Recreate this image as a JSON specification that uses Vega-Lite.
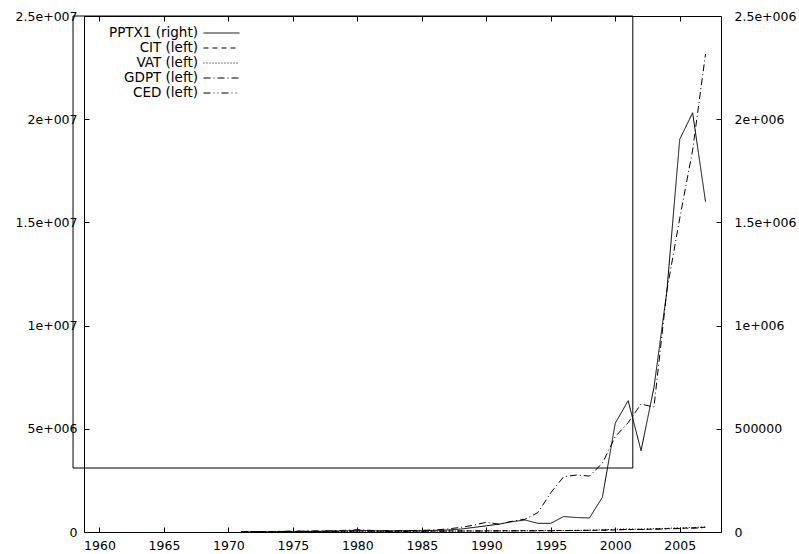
{
  "$schema": "https://vega.github.io/schema/vega-lite/v6.json",
  "width": 637,
  "height": 516,
  "autosize": "none",
  "padding": {"left": 84, "top": 16, "right": 78, "bottom": 22},
  "background": "white",
  "config": {
    "view": {"stroke": "black", "strokeWidth": 1},
    "font": "DejaVu Sans",
    "axis": {"labelFont": "DejaVu Sans", "labelFontSize": 12.5, "labelColor": "black", "tickColor": "black", "domain": false, "grid": false, "tickSize": -5, "title": null}
  },
  "datasets": {
    "main": [
      {"year":1971,"series":"PPTX1","value":500},{"year":1972,"series":"PPTX1","value":800},{"year":1973,"series":"PPTX1","value":1000},{"year":1974,"series":"PPTX1","value":1500},{"year":1975,"series":"PPTX1","value":2000},{"year":1976,"series":"PPTX1","value":2500},{"year":1977,"series":"PPTX1","value":3000},{"year":1978,"series":"PPTX1","value":3500},{"year":1979,"series":"PPTX1","value":5000},{"year":1980,"series":"PPTX1","value":9000},{"year":1981,"series":"PPTX1","value":6000},{"year":1982,"series":"PPTX1","value":5000},{"year":1983,"series":"PPTX1","value":5500},{"year":1984,"series":"PPTX1","value":6000},{"year":1985,"series":"PPTX1","value":6000},{"year":1986,"series":"PPTX1","value":8000},{"year":1987,"series":"PPTX1","value":10000},{"year":1988,"series":"PPTX1","value":14000},{"year":1989,"series":"PPTX1","value":22000},{"year":1990,"series":"PPTX1","value":30000},{"year":1991,"series":"PPTX1","value":38000},{"year":1992,"series":"PPTX1","value":50000},{"year":1993,"series":"PPTX1","value":58000},{"year":1994,"series":"PPTX1","value":42000},{"year":1995,"series":"PPTX1","value":42000},{"year":1996,"series":"PPTX1","value":75000},{"year":1997,"series":"PPTX1","value":70000},{"year":1998,"series":"PPTX1","value":68000},{"year":1999,"series":"PPTX1","value":168000},{"year":2000,"series":"PPTX1","value":527000},{"year":2001,"series":"PPTX1","value":636000},{"year":2002,"series":"PPTX1","value":394000},{"year":2003,"series":"PPTX1","value":700000},{"year":2004,"series":"PPTX1","value":1165000},{"year":2005,"series":"PPTX1","value":1903000},{"year":2006,"series":"PPTX1","value":2031000},{"year":2007,"series":"PPTX1","value":1600000},

      {"year":1971,"series":"CIT","value":20000},{"year":1972,"series":"CIT","value":22000},{"year":1973,"series":"CIT","value":25000},{"year":1974,"series":"CIT","value":30000},{"year":1975,"series":"CIT","value":35000},{"year":1976,"series":"CIT","value":38000},{"year":1977,"series":"CIT","value":40000},{"year":1978,"series":"CIT","value":42000},{"year":1979,"series":"CIT","value":45000},{"year":1980,"series":"CIT","value":50000},{"year":1981,"series":"CIT","value":48000},{"year":1982,"series":"CIT","value":45000},{"year":1983,"series":"CIT","value":44000},{"year":1984,"series":"CIT","value":45000},{"year":1985,"series":"CIT","value":46000},{"year":1986,"series":"CIT","value":48000},{"year":1987,"series":"CIT","value":50000},{"year":1988,"series":"CIT","value":52000},{"year":1989,"series":"CIT","value":55000},{"year":1990,"series":"CIT","value":58000},{"year":1991,"series":"CIT","value":60000},{"year":1992,"series":"CIT","value":62000},{"year":1993,"series":"CIT","value":64000},{"year":1994,"series":"CIT","value":66000},{"year":1995,"series":"CIT","value":68000},{"year":1996,"series":"CIT","value":72000},{"year":1997,"series":"CIT","value":75000},{"year":1998,"series":"CIT","value":78000},{"year":1999,"series":"CIT","value":85000},{"year":2000,"series":"CIT","value":100000},{"year":2001,"series":"CIT","value":120000},{"year":2002,"series":"CIT","value":130000},{"year":2003,"series":"CIT","value":140000},{"year":2004,"series":"CIT","value":160000},{"year":2005,"series":"CIT","value":180000},{"year":2006,"series":"CIT","value":200000},{"year":2007,"series":"CIT","value":230000},

      {"year":1975,"series":"VAT","value":15000},{"year":1976,"series":"VAT","value":18000},{"year":1977,"series":"VAT","value":20000},{"year":1978,"series":"VAT","value":24000},{"year":1979,"series":"VAT","value":28000},{"year":1980,"series":"VAT","value":34000},{"year":1981,"series":"VAT","value":32000},{"year":1982,"series":"VAT","value":30000},{"year":1983,"series":"VAT","value":31000},{"year":1984,"series":"VAT","value":33000},{"year":1985,"series":"VAT","value":35000},{"year":1986,"series":"VAT","value":38000},{"year":1987,"series":"VAT","value":40000},{"year":1988,"series":"VAT","value":43000},{"year":1989,"series":"VAT","value":46000},{"year":1990,"series":"VAT","value":50000},{"year":1991,"series":"VAT","value":53000},{"year":1992,"series":"VAT","value":56000},{"year":1993,"series":"VAT","value":60000},{"year":1994,"series":"VAT","value":62000},{"year":1995,"series":"VAT","value":65000},{"year":1996,"series":"VAT","value":75000},{"year":1997,"series":"VAT","value":80000},{"year":1998,"series":"VAT","value":90000},{"year":1999,"series":"VAT","value":110000},{"year":2000,"series":"VAT","value":130000},{"year":2001,"series":"VAT","value":150000},{"year":2002,"series":"VAT","value":140000},{"year":2003,"series":"VAT","value":160000},{"year":2004,"series":"VAT","value":180000},{"year":2005,"series":"VAT","value":200000},{"year":2006,"series":"VAT","value":220000},{"year":2007,"series":"VAT","value":250000},

      {"year":1971,"series":"GDPT","value":10000},{"year":1972,"series":"GDPT","value":15000},{"year":1973,"series":"GDPT","value":20000},{"year":1974,"series":"GDPT","value":30000},{"year":1975,"series":"GDPT","value":40000},{"year":1976,"series":"GDPT","value":45000},{"year":1977,"series":"GDPT","value":50000},{"year":1978,"series":"GDPT","value":60000},{"year":1979,"series":"GDPT","value":80000},{"year":1980,"series":"GDPT","value":110000},{"year":1981,"series":"GDPT","value":80000},{"year":1982,"series":"GDPT","value":60000},{"year":1983,"series":"GDPT","value":60000},{"year":1984,"series":"GDPT","value":70000},{"year":1985,"series":"GDPT","value":80000},{"year":1986,"series":"GDPT","value":100000},{"year":1987,"series":"GDPT","value":150000},{"year":1988,"series":"GDPT","value":220000},{"year":1989,"series":"GDPT","value":330000},{"year":1990,"series":"GDPT","value":470000},{"year":1991,"series":"GDPT","value":380000},{"year":1992,"series":"GDPT","value":520000},{"year":1993,"series":"GDPT","value":620000},{"year":1994,"series":"GDPT","value":940000},{"year":1995,"series":"GDPT","value":1900000},{"year":1996,"series":"GDPT","value":2680000},{"year":1997,"series":"GDPT","value":2760000},{"year":1998,"series":"GDPT","value":2710000},{"year":1999,"series":"GDPT","value":3330000},{"year":2000,"series":"GDPT","value":4620000},{"year":2001,"series":"GDPT","value":5300000},{"year":2002,"series":"GDPT","value":6200000},{"year":2003,"series":"GDPT","value":6050000},{"year":2004,"series":"GDPT","value":11680000},{"year":2005,"series":"GDPT","value":15200000},{"year":2006,"series":"GDPT","value":18500000},{"year":2007,"series":"GDPT","value":23160000},

      {"year":1971,"series":"CED","value":12000},{"year":1972,"series":"CED","value":14000},{"year":1973,"series":"CED","value":16000},{"year":1974,"series":"CED","value":20000},{"year":1975,"series":"CED","value":24000},{"year":1976,"series":"CED","value":27000},{"year":1977,"series":"CED","value":30000},{"year":1978,"series":"CED","value":33000},{"year":1979,"series":"CED","value":38000},{"year":1980,"series":"CED","value":45000},{"year":1981,"series":"CED","value":40000},{"year":1982,"series":"CED","value":36000},{"year":1983,"series":"CED","value":36000},{"year":1984,"series":"CED","value":38000},{"year":1985,"series":"CED","value":40000},{"year":1986,"series":"CED","value":42000},{"year":1987,"series":"CED","value":44000},{"year":1988,"series":"CED","value":46000},{"year":1989,"series":"CED","value":48000},{"year":1990,"series":"CED","value":50000},{"year":1991,"series":"CED","value":52000},{"year":1992,"series":"CED","value":54000},{"year":1993,"series":"CED","value":56000},{"year":1994,"series":"CED","value":58000},{"year":1995,"series":"CED","value":60000},{"year":1996,"series":"CED","value":65000},{"year":1997,"series":"CED","value":70000},{"year":1998,"series":"CED","value":80000},{"year":1999,"series":"CED","value":95000},{"year":2000,"series":"CED","value":110000},{"year":2001,"series":"CED","value":125000},{"year":2002,"series":"CED","value":120000},{"year":2003,"series":"CED","value":135000},{"year":2004,"series":"CED","value":150000},{"year":2005,"series":"CED","value":165000},{"year":2006,"series":"CED","value":185000},{"year":2007,"series":"CED","value":210000}
    ]
  },
  "layer": [
    {
      "data": {"name": "main"},
      "transform": [{"filter": "datum.series != 'PPTX1'"}],
      "mark": {"type": "line", "color": "black", "strokeWidth": 1},
      "encoding": {
        "x": {"field": "year", "type": "quantitative", "scale": {"domain": [1958.8, 2008.2], "nice": false, "zero": false},
              "axis": {"orient": "bottom", "values": [1960,1965,1970,1975,1980,1985,1990,1995,2000,2005], "format": "d", "labelPadding": 12}},
        "y": {"field": "value", "type": "quantitative", "scale": {"domain": [0, 25000000], "nice": false},
              "axis": {"orient": "left", "values": [0,5000000,10000000,15000000,20000000,25000000], "labelPadding": 12,
                       "labelExpr": "datum.value == 0 ? '0' : datum.value == 5000000 ? '5e+006' : datum.value == 10000000 ? '1e+007' : datum.value == 15000000 ? '1.5e+007' : datum.value == 20000000 ? '2e+007' : '2.5e+007'"}},
        "strokeDash": {"field": "series", "type": "nominal",
          "scale": {"domain": ["PPTX1","CIT","VAT","GDPT","CED"], "range": [[1,0],[5,4],[1,2],[7,3,1,3],[7,3,1,3,1,3]]},
          "legend": {"orient": "none", "legendX": 129.5, "legendY": 9, "title": null, "symbolType": "M-2.4,0H2.4", "symbolSize": 225,
                     "symbolStrokeColor": "black", "symbolStrokeWidth": 1, "symbolFillColor": "transparent", "labelAlign": "right", "labelOffset": -31.5,
                     "labelFont": "DejaVu Sans", "labelFontSize": 13.5, "labelColor": "black", "rowPadding": 0, "padding": 0,
                     "labelExpr": "datum.label == 'PPTX1' ? 'PPTX1 (right)' : datum.label + ' (left)'"}}
      }
    },
    {
      "data": {"name": "main"},
      "transform": [{"filter": "datum.series == 'PPTX1'"}],
      "mark": {"type": "line", "color": "black", "strokeWidth": 1},
      "encoding": {
        "x": {"field": "year", "type": "quantitative", "axis": null},
        "y": {"field": "value", "type": "quantitative", "scale": {"domain": [0, 2500000], "nice": false},
              "axis": {"orient": "right", "values": [0,500000,1000000,1500000,2000000,2500000], "labelPadding": 18,
                       "labelExpr": "datum.value == 0 ? '0' : datum.value == 500000 ? '500000' : datum.value == 1000000 ? '1e+006' : datum.value == 1500000 ? '1.5e+006' : datum.value == 2000000 ? '2e+006' : '2.5e+006'"}},
        "strokeDash": {"field": "series", "type": "nominal"}
      }
    },
    {
      "data": {"values": [{"box": "legend"}]},
      "mark": {"type": "rect", "fill": null, "fillOpacity": 0, "stroke": "black", "strokeWidth": 1, "clip": false},
      "encoding": {
        "x": {"datum": 1957.95, "type": "quantitative", "axis": {"orient": "top", "values": [1960,1965,1970,1975,1980,1985,1990,1995,2000,2005], "labels": false}},
        "x2": {"datum": 2001.36},
        "y": {"datum": 3100000, "type": "quantitative", "scale": {"domain": [0, 25000000], "nice": false}, "axis": null},
        "y2": {"datum": 25000000}
      }
    }
  ],
  "resolve": {"scale": {"y": "independent"}, "axis": {"x": "independent", "y": "independent"}}
}
